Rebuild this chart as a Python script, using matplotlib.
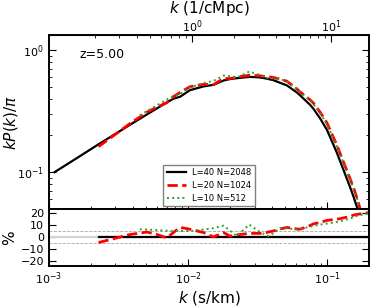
import matplotlib
matplotlib.use('Agg')
import matplotlib.pyplot as plt
import numpy as np

# k in s/km, common grid for all three runs
k = np.array([1.1e-3, 1.6e-3, 2.27e-3, 3.07e-3, 3.83e-3, 4.5e-3, 5.05e-3, 5.96e-3,
              7.03e-3, 7.84e-3, 8.75e-3, 0.0103, 0.0129, 0.0152, 0.0180, 0.0200,
              0.0224, 0.0275, 0.0320, 0.0348, 0.0379, 0.0410, 0.0459, 0.0512,
              0.0605, 0.0640, 0.0755, 0.0797, 0.0890, 0.0995, 0.117, 0.124,
              0.146, 0.155, 0.164, 0.170, 0.200])

# kP(k)/pi of the L=40 N=2048 run
kp_ref = np.array([0.100, 0.131, 0.169, 0.209, 0.245, 0.274, 0.297, 0.333,
                   0.373, 0.400, 0.415, 0.470, 0.505, 0.520, 0.565, 0.580,
                   0.590, 0.604, 0.600, 0.592, 0.580, 0.568, 0.540, 0.515,
                   0.450, 0.425, 0.355, 0.330, 0.275, 0.222, 0.145, 0.122,
                   0.075, 0.062, 0.051, 0.044, 0.020])

# percent difference to the reference run
nan = np.nan
pct_20 = np.array([nan, nan, -4.4, -0.5, 2.4, 3.5, 4.4, 2.4,
                   -0.5, 4.0, 8.3, 6.8, 4.0, 0.3, 4.0, 1.0,
                   2.0, 3.3, 3.3, 3.3, 4.5, 5.3, 7.0, 8.3,
                   7.0, 6.8, 10.0, 11.3, 12.5, 14.2, 15.2, 15.7,
                   17.5, 18.7, 19.2, 19.5, 20.8])
pct_10 = np.array([nan, nan, nan, nan, nan, 6.8, 6.5, 6.0,
                   5.6, 5.3, 5.3, 5.3, 6.5, 7.7, 9.8, 5.5,
                   1.0, 10.7, 5.3, 3.0, 1.0, 3.5, 7.7, 7.5,
                   6.6, 7.0, 8.9, 9.5, 10.7, 11.5, 12.8, 13.5,
                   15.7, 17.0, 18.0, 18.5, 20.0])

labels = ['L=40 N=2048', 'L=20 N=1024', 'L=10 N=512']
zlabel = 'z=5.00'
kconv = 93.5  # (s/km) -> (1/cMpc) at z=5

fig = plt.figure(figsize=(3.74, 3.06), dpi=100)
ax = fig.add_axes([0.131, 0.318, 0.856, 0.567])
ax2 = fig.add_axes([0.131, 0.131, 0.856, 0.187], sharex=ax)

ax.plot(k, kp_ref, color='black', lw=1.6, label=labels[0])
ax.plot(k, kp_ref * (1 + pct_20 / 100), color='red', ls='--', lw=2, label=labels[1])
ax.plot(k, kp_ref * (1 + pct_10 / 100), color='#2ca02c', ls=':', lw=1.4, label=labels[2])
ax.set_xscale('log')
ax.set_yscale('log')
ax.set_xlim(1e-3, 0.2)
ax.set_ylim(0.05, 1.33)
ax.set_ylabel(r'$kP(k)/\pi$', fontsize=11)
ax.yaxis.set_label_coords(-0.09, 0.5)
ax.text(0.095, 0.89, zlabel, transform=ax.transAxes, fontsize=9, va='center')
ax.tick_params(which='both', direction='in', right=True, top=False, labelbottom=False, labelsize=8)
ax.tick_params(which='major', length=5)
ax.tick_params(which='minor', length=2.5)
leg = ax.legend(loc='lower center', fontsize=6, fancybox=False, handlelength=2.3,
                borderaxespad=0.3, labelspacing=0.45, framealpha=1)
leg.get_frame().set_edgecolor('grey')

sec = ax.secondary_xaxis('top', functions=(lambda x: x * kconv, lambda x: x / kconv))
sec.set_xticks([1, 10])
sec.set_xlabel(r'$k$ (1/cMpc)', fontsize=11, labelpad=4)
sec.tick_params(which='both', direction='in', labelsize=8, pad=0)
sec.tick_params(which='major', length=5)
sec.tick_params(which='minor', length=2.5)

ax2.axhline(0, color='lightgray', lw=1.6)
ax2.axhline(5, color='grey', ls='--', lw=0.6, alpha=0.7)
ax2.axhline(-5, color='grey', ls='--', lw=0.6, alpha=0.7)
ax2.plot(k[2:], np.zeros(len(k) - 2), color='black', lw=1.6)
ax2.plot(k, pct_20, color='red', ls='--', lw=2)
ax2.plot(k, pct_10, color='#2ca02c', ls=':', lw=1.4)
ax2.set_ylim(-24, 24)
ax2.set_yticks([-20, -10, 0, 10, 20])
ax2.set_ylabel('%', fontsize=11)
ax2.yaxis.set_label_coords(-0.1, 0.5)
ax2.set_xlabel(r'$k$ (s/km)', fontsize=11, labelpad=1)
ax2.tick_params(which='both', direction='in', right=True, labelsize=8)
ax2.tick_params(which='major', length=5)
ax2.tick_params(which='minor', length=2.5)

for a in (ax, ax2):
    for s in a.spines.values():
        s.set_linewidth(1.4)

fig.savefig('out.png', dpi=100)
